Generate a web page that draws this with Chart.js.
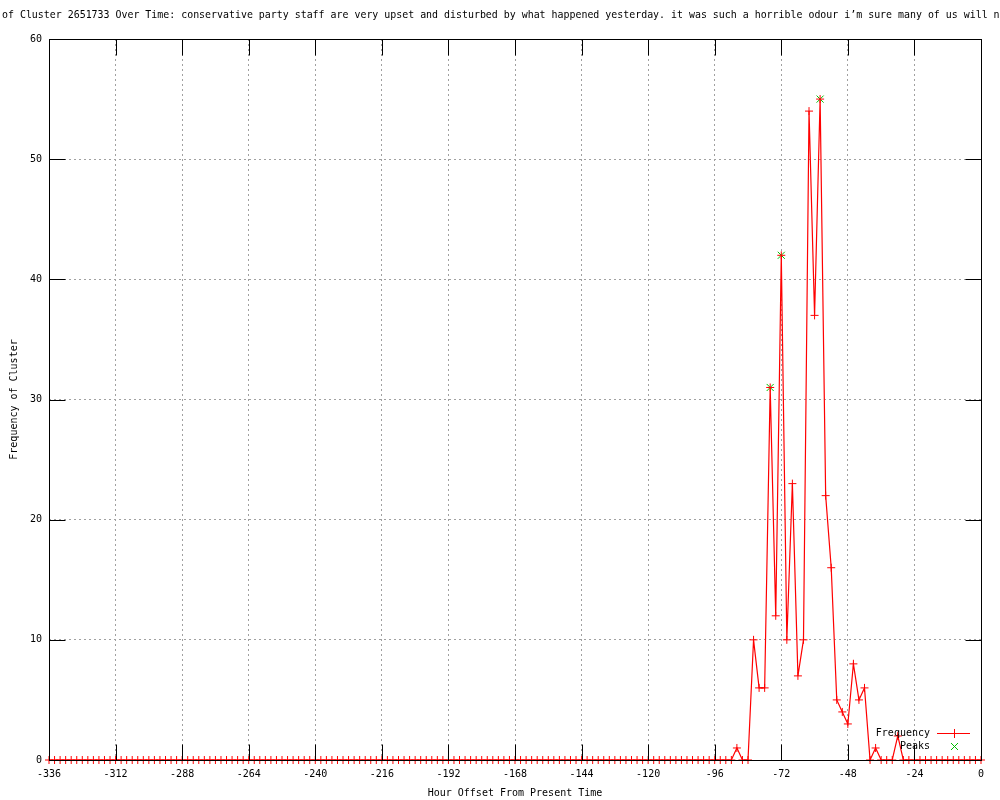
<!DOCTYPE html>
<html>
<head>
<meta charset="utf-8">
<script src="https://cdn.jsdelivr.net/npm/chart.js@4.4.0/dist/chart.umd.min.js"></script>
<style>
body { margin: 0; background: #fff; }
canvas { display: block; }
</style>
</head>
<body>
<canvas id="myChart" width="1000" height="800"></canvas>
<script>
const chartTitle = "Frequency of Cluster 2651733 Over Time: conservative party staff are very upset and disturbed by what happened yesterday. it was such a horrible odour i\u2019m sure many of us will never forget it."
const xTitle = "Hour Offset From Present Time"
const yTitle = "Frequency of Cluster"

// hours, every 2h from -336 to 0
const hours = [
  -336,-334,-332,-330,-328,-326,-324,-322,-320,-318,-316,-314,
  -312,-310,-308,-306,-304,-302,-300,-298,-296,-294,-292,-290,
  -288,-286,-284,-282,-280,-278,-276,-274,-272,-270,-268,-266,
  -264,-262,-260,-258,-256,-254,-252,-250,-248,-246,-244,-242,
  -240,-238,-236,-234,-232,-230,-228,-226,-224,-222,-220,-218,
  -216,-214,-212,-210,-208,-206,-204,-202,-200,-198,-196,-194,
  -192,-190,-188,-186,-184,-182,-180,-178,-176,-174,-172,-170,
  -168,-166,-164,-162,-160,-158,-156,-154,-152,-150,-148,-146,
  -144,-142,-140,-138,-136,-134,-132,-130,-128,-126,-124,-122,
  -120,-118,-116,-114,-112,-110,-108,-106,-104,-102,-100,-98,
  -96,-94,-92,-90,-88,-86,-84,-82,-80,-78,-76,-74,
  -72,-70,-68,-66,-64,-62,-60,-58,-56,-54,-52,-50,
  -48,-46,-44,-42,-40,-38,-36,-34,-32,-30,-28,-26,
  -24,-22,-20,-18,-16,-14,-12,-10,-8,-6,-4,-2,
  0
]
const frequency = [
  0,0,0,0,0,0,0,0,0,0,0,0,
  0,0,0,0,0,0,0,0,0,0,0,0,
  0,0,0,0,0,0,0,0,0,0,0,0,
  0,0,0,0,0,0,0,0,0,0,0,0,
  0,0,0,0,0,0,0,0,0,0,0,0,
  0,0,0,0,0,0,0,0,0,0,0,0,
  0,0,0,0,0,0,0,0,0,0,0,0,
  0,0,0,0,0,0,0,0,0,0,0,0,
  0,0,0,0,0,0,0,0,0,0,0,0,
  0,0,0,0,0,0,0,0,0,0,0,0,
  0,0,0,0,1,0,0,10,6,6,31,12,
  42,10,23,7,10,54,37,55,22,16,5,4,
  3,8,5,6,0,1,0,0,0,2,0,0,
  0,0,0,0,0,0,0,0,0,0,0,0,
  0
]
const peakHours = [-76, -72, -58]
const peakValues = [31, 42, 55]

const xMin = -336, xMax = 0, xStep = 24
const yMin = 0, yMax = 60, yStep = 10

const fontFamily = '"DejaVu Sans Mono", monospace'
Chart.defaults.font.family = fontFamily
Chart.defaults.font.size = 10
Chart.defaults.color = '#000'

// frame, inward tics, title and key, gnuplot style
const gnuplotBits = {
  id: 'gnuplotBits',
  afterDraw(chart) {
    const {ctx, chartArea: a, scales: {x, y}} = chart
    const L = Math.round(a.left) + 0.5, R = Math.round(a.right) + 0.5
    const T = Math.round(a.top) + 0.5, B = Math.round(a.bottom) + 0.5
    ctx.save()
    ctx.strokeStyle = '#000'
    ctx.lineWidth = 1
    ctx.beginPath()
    x.ticks.forEach(t => {
      const px = Math.round(x.getPixelForValue(t.value)) + 0.5
      ctx.moveTo(px, B); ctx.lineTo(px, B - 16)
      ctx.moveTo(px, T); ctx.lineTo(px, T + 16)
    })
    y.ticks.forEach(t => {
      const py = Math.round(y.getPixelForValue(t.value)) + 0.5
      ctx.moveTo(L, py); ctx.lineTo(L + 16, py)
      ctx.moveTo(R, py); ctx.lineTo(R - 16, py)
    })
    ctx.stroke()
    ctx.strokeRect(L, T, R - L, B - T)

    // title, centred wider than the canvas so both ends are cut
    ctx.font = '9.93px ' + fontFamily
    ctx.fillStyle = '#000'
    ctx.textBaseline = 'middle'
    ctx.textAlign = 'left'
    const skip = ctx.measureText('Frequency ').width
    ctx.fillText(chartTitle, 2 - skip, 15)

    // key
    ctx.font = '10px ' + fontFamily
    const ds = chart.data.datasets
    const tx = Math.round(a.right) - 51
    const r1 = Math.round(a.bottom) - 27, r2 = Math.round(a.bottom) - 14
    ctx.textAlign = 'right'
    ctx.fillText(ds[0].label, tx, r1)
    ctx.fillText(ds[1].label, tx, r2)
    const mx = tx + 24
    ctx.strokeStyle = ds[0].borderColor
    ctx.beginPath()
    ctx.moveTo(tx + 7, r1 + 0.5); ctx.lineTo(tx + 40, r1 + 0.5)
    ctx.moveTo(mx + 0.5, r1 - 4); ctx.lineTo(mx + 0.5, r1 + 5)
    ctx.stroke()
    ctx.strokeStyle = ds[1].pointBorderColor
    ctx.beginPath()
    ctx.moveTo(mx - 3, r2 - 3); ctx.lineTo(mx + 4, r2 + 4)
    ctx.moveTo(mx + 4, r2 - 3); ctx.lineTo(mx - 3, r2 + 4)
    ctx.stroke()
    ctx.restore()
  }
}

const ctx = document.getElementById('myChart')
const chart = new Chart(ctx, {
  type: 'line',
  data: {
    datasets: [{
      label: 'Frequency',
      data: hours.map((h, i) => ({x: h, y: frequency[i]})),
      borderColor: '#ff0000',
      borderWidth: 1.2,
      tension: 0,
      clip: false,
      pointStyle: 'cross',
      pointRadius: 4,
      pointBorderColor: '#ff0000',
      pointBorderWidth: 1,
      fill: false
    }, {
      label: 'Peaks',
      data: peakHours.map((h, i) => ({x: h, y: peakValues[i]})),
      showLine: false,
      clip: false,
      pointStyle: 'crossRot',
      pointRadius: 5,
      pointBorderColor: '#00c000',
      pointBorderWidth: 1
    }]
  },
  options: {
    responsive: false,
    animation: false,
    events: [],
    layout: { padding: { top: 39, right: 19, left: 0, bottom: 0 } },
    plugins: { legend: { display: false }, title: { display: false }, tooltip: { enabled: false } },
    scales: {
      x: {
        type: 'linear',
        min: xMin,
        max: xMax,
        afterFit: s => { s.height = 40 },
        ticks: { stepSize: xStep, maxRotation: 0, autoSkip: false, padding: 8 },
        grid: { color: '#a0a0a0', drawTicks: false },
        border: { display: false, dash: [2, 3] },
        title: { display: true, text: xTitle, padding: { top: 0, bottom: 1 } }
      },
      y: {
        min: yMin,
        max: yMax,
        afterFit: s => { s.width = 49 },
        ticks: { stepSize: yStep, padding: 7 },
        grid: { color: '#a0a0a0', drawTicks: false },
        border: { display: false, dash: [2, 3] },
        title: { display: true, text: yTitle, padding: { top: 8, bottom: 0 } }
      }
    }
  },
  plugins: [gnuplotBits]
})
</script>
</body>
</html>
